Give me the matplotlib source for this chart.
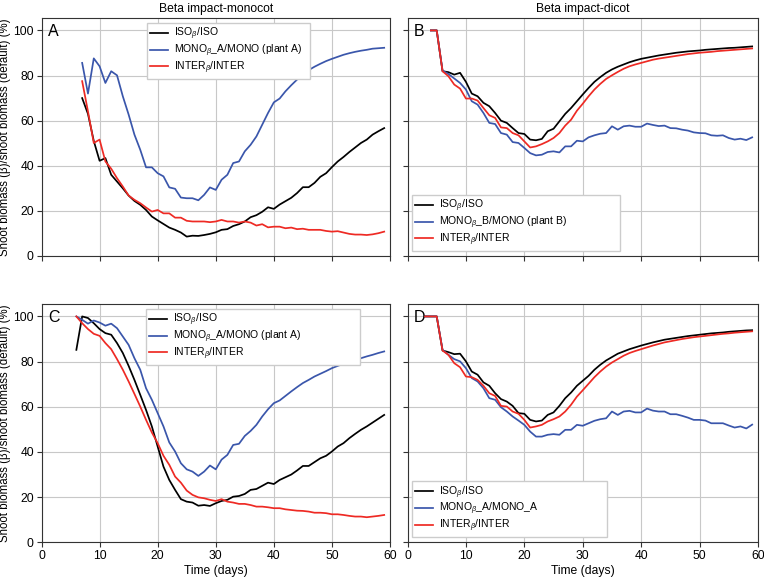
import matplotlib
matplotlib.use("Agg")
import matplotlib.pyplot as plt
import numpy as np

plt.rcParams['font.family'] = ['Liberation Sans', 'DejaVu Sans']
plt.rcParams['mathtext.fontset'] = 'custom'
plt.rcParams['mathtext.rm'] = 'Liberation Sans'
plt.rcParams['mathtext.it'] = 'Liberation Sans:italic'

# ---------------- Panel A (monocot, beta impact) ----------------
days_A = list(range(7, 60))
iso_A = [70.0, 63.0, 51.0, 42.2, 43.4, 36.0, 33.0, 30.0, 26.8, 24.4, 22.7, 20.4, 17.5, 15.8,
         14.2, 12.6, 11.6, 10.4, 8.6, 9.0, 8.9, 9.3, 9.8, 10.5, 11.6, 11.9, 13.3, 14.1, 15.3,
         17.2, 18.1, 19.6, 21.6, 20.9, 22.8, 24.3, 25.8, 27.9, 30.5, 30.5, 32.4, 35.1, 36.7,
         39.4, 41.9, 43.9, 46.1, 48.1, 50.1, 51.6, 53.8, 55.3, 56.7]
mono_A = [85.6, 72.0, 87.6, 84.1, 76.7, 81.9, 80.1, 70.8, 62.7, 53.8, 47.1, 39.3, 39.3, 36.7,
          35.3, 30.4, 29.8, 25.9, 25.6, 25.6, 24.7, 27.1, 30.4, 29.3, 33.8, 36.0, 41.2, 41.9,
          46.4, 49.3, 53.0, 58.2, 63.4, 68.1, 69.8, 73.0, 75.7, 78.2, 80.4, 82.4, 83.9, 85.2,
          86.4, 87.4, 88.3, 89.2, 89.9, 90.5, 91.0, 91.4, 91.9, 92.1, 92.3]
inter_A = [77.5, 64.1, 50.1, 51.6, 41.9, 38.7, 34.5, 30.8, 26.8, 24.9, 23.4, 21.5, 19.7, 20.4,
           18.9, 18.9, 17.0, 17.0, 15.6, 15.3, 15.3, 15.3, 15.0, 15.3, 16.0, 15.3, 15.3, 14.8,
           15.3, 14.8, 13.5, 14.1, 12.7, 13.0, 13.0, 12.3, 12.6, 11.9, 12.1, 11.6, 11.6, 11.6,
           11.1, 10.8, 11.0, 10.4, 9.8, 9.5, 9.5, 9.3, 9.6, 10.1, 10.8]

# ---------------- Panel B (dicot, beta impact) ----------------
days_B = list(range(4, 60))
iso_B = [100.0, 100.0, 81.9, 81.5, 80.4, 81.2, 77.2, 72.0, 70.8, 67.9, 66.4, 63.4, 60.0, 59.0,
         56.7, 54.5, 54.1, 51.6, 51.3, 51.9, 55.3, 56.4, 59.7, 63.0, 65.6, 68.6, 71.6, 74.5,
         77.2, 79.3, 81.2, 82.7, 83.9, 84.9, 85.9, 86.7, 87.4, 87.9, 88.4, 88.9, 89.3, 89.7,
         90.1, 90.4, 90.7, 90.9, 91.1, 91.4, 91.6, 91.8, 92.0, 92.2, 92.3, 92.5, 92.7, 92.9]
mono_B = [100.0, 100.0, 82.2, 80.7, 78.7, 76.7, 73.8, 68.6, 67.1, 63.4, 59.0, 58.5, 54.5, 53.8,
          50.5, 50.1, 47.9, 45.6, 44.6, 44.9, 46.1, 46.4, 45.9, 48.6, 48.6, 51.1, 50.8, 52.6,
          53.5, 54.2, 54.5, 57.5, 56.0, 57.5, 57.8, 57.3, 57.3, 58.7, 58.1, 57.6, 57.8, 56.7,
          56.6, 56.0, 55.6, 54.8, 54.5, 54.4, 53.5, 53.3, 53.5, 52.3, 51.6, 52.0, 51.4, 52.6]
inter_B = [100.0, 100.0, 81.9, 79.7, 76.0, 74.2, 69.8, 69.8, 68.9, 65.6, 62.4, 61.2, 57.0, 56.7,
           54.5, 53.5, 50.8, 48.1, 48.6, 49.6, 50.8, 52.3, 54.5, 57.8, 60.4, 64.4, 67.5, 70.8,
           73.8, 76.3, 78.5, 80.1, 81.6, 83.0, 84.1, 84.9, 85.6, 86.3, 87.0, 87.5, 87.9, 88.3,
           88.7, 89.1, 89.5, 89.8, 90.1, 90.3, 90.5, 90.8, 91.0, 91.2, 91.4, 91.6, 91.8, 92.0]

# ---------------- Panel C (monocot) ----------------
days_C = list(range(6, 60))
iso_C = [85.2, 100.0, 99.3, 97.0, 94.4, 92.6, 91.9, 88.2, 83.8, 78.1, 71.9, 65.3, 58.6, 51.3,
         42.4, 33.5, 27.6, 23.2, 19.1, 18.0, 17.6, 16.2, 16.5, 16.1, 17.3, 18.3, 18.8, 20.2,
         20.5, 21.4, 23.2, 23.6, 25.0, 26.4, 25.8, 27.6, 28.8, 30.0, 31.8, 33.8, 33.8, 35.5,
         37.2, 38.3, 40.2, 42.4, 43.9, 46.1, 48.0, 49.8, 51.3, 53.0, 54.7, 56.4]
mono_C = [100.0, 98.5, 96.8, 98.2, 97.3, 95.9, 96.8, 94.8, 91.1, 87.4, 81.5, 76.4, 68.2, 63.1,
          57.2, 51.3, 44.2, 40.2, 35.0, 32.3, 31.3, 29.4, 31.3, 34.0, 32.3, 36.6, 38.7, 43.1,
          43.6, 47.1, 49.3, 52.0, 55.7, 58.9, 61.6, 62.8, 64.8, 66.8, 68.7, 70.5, 71.9, 73.4,
          74.6, 75.8, 77.1, 78.1, 79.0, 79.9, 80.8, 81.5, 82.3, 83.0, 83.8, 84.5]
inter_C = [100.0, 97.0, 94.4, 92.3, 91.4, 88.2, 85.5, 81.1, 76.4, 71.2, 65.7, 60.1, 54.2, 48.6,
           43.9, 38.3, 34.3, 29.1, 26.4, 22.9, 21.0, 19.9, 19.5, 18.8, 18.3, 19.1, 18.0, 17.6,
           17.0, 17.0, 16.5, 15.8, 15.8, 15.5, 15.1, 15.1, 14.6, 14.3, 14.0, 13.9, 13.6, 13.1,
           13.1, 12.9, 12.4, 12.4, 12.1, 11.7, 11.4, 11.4, 11.1, 11.4, 11.7, 12.1]

# ---------------- Panel D (dicot) ----------------
days_D = list(range(3, 60))
iso_D = [100.0, 100.0, 100.0, 84.9, 84.2, 83.3, 83.5, 80.1, 75.6, 74.2, 70.8, 69.3, 66.0, 63.4,
         62.3, 60.4, 57.2, 56.9, 54.2, 53.5, 53.9, 56.4, 57.5, 60.4, 63.8, 66.3, 69.3, 71.5,
         73.7, 76.4, 78.6, 80.5, 82.0, 83.5, 84.5, 85.5, 86.3, 87.1, 87.8, 88.5, 89.1, 89.7,
         90.1, 90.5, 90.9, 91.3, 91.6, 91.9, 92.2, 92.5, 92.7, 92.9, 93.2, 93.4, 93.6, 93.8, 93.9]
mono_D = [100.0, 100.0, 100.0, 85.2, 83.0, 81.1, 80.1, 77.1, 72.7, 71.2, 68.2, 63.8, 63.1, 59.8,
          57.9, 55.7, 53.9, 52.0, 49.0, 46.8, 46.8, 47.6, 47.9, 47.6, 49.8, 49.8, 52.0, 51.6,
          52.7, 53.8, 54.5, 54.9, 57.9, 56.4, 57.9, 58.2, 57.5, 57.5, 59.2, 58.3, 57.9, 57.9,
          56.7, 56.7, 56.0, 55.2, 54.2, 54.2, 53.9, 52.7, 52.7, 52.7, 51.7, 50.8, 51.3, 50.4, 52.1]
inter_D = [100.0, 100.0, 100.0, 84.9, 83.0, 79.3, 77.5, 73.4, 73.1, 71.9, 69.3, 66.0, 64.8, 60.4,
           60.1, 57.9, 56.9, 54.2, 50.8, 51.3, 52.0, 53.5, 54.5, 55.7, 57.9, 60.9, 64.5, 67.3,
           70.2, 73.1, 75.6, 77.8, 79.6, 81.1, 82.6, 83.8, 84.7, 85.5, 86.3, 87.1, 87.8, 88.5,
           89.0, 89.5, 90.0, 90.4, 90.8, 91.1, 91.4, 91.7, 92.0, 92.3, 92.5, 92.8, 93.0, 93.2, 93.4]

titles = ["Beta impact-monocot", "Beta impact-dicot"]
panel_labels = ["A", "B", "C", "D"]
leg_A = ["ISO$_{\\beta}$/ISO", "MONO$_{\\beta}$_A/MONO (plant A)", "INTER$_{\\beta}$/INTER"]
leg_B = ["ISO$_{\\beta}$/ISO", "MONO$_{\\beta}$_B/MONO (plant B)", "INTER$_{\\beta}$/INTER"]
leg_C = ["ISO$_{\\beta}$/ISO", "MONO$_{\\beta}$_A/MONO (plant A)", "INTER$_{\\beta}$/INTER"]
leg_D = ["ISO$_{\\beta}$/ISO", "MONO$_{\\beta}$_A/MONO_A", "INTER$_{\\beta}$/INTER"]
ylabel = "Shoot biomass (\u03b2)/shoot biomass (default) (%)"
xlabel = "Time (days)"

C_BLACK = "#000000"
C_BLUE = "#3a56ab"
C_RED = "#ee2a24"

fig = plt.figure(figsize=(7.64, 5.79), dpi=100)
W, H = 764, 579
def rect(x0, x1, y0, y1):
    return [x0 / W, 1 - y1 / H, (x1 - x0) / W, (y1 - y0) / H]

axA = fig.add_axes(rect(41.5, 390, 18, 256))
axB = fig.add_axes(rect(407.5, 758, 18, 256))
axC = fig.add_axes(rect(41.5, 390, 304, 542.3))
axD = fig.add_axes(rect(407.5, 758, 304, 542.3))

# legend frame boxes (axes fraction: x0, y0, width, height)
leg_boxes = [
    ("upper left", (0.303, 0.80, 0.467, 0.18)),
    ("lower left", (0.013, 0.021, 0.593, 0.18)),
    ("upper left", (0.299, 0.80, 0.615, 0.18)),
    ("lower left", (0.012, 0.021, 0.558, 0.18)),
]

panels = [
    (axA, days_A, iso_A, mono_A, inter_A, leg_A),
    (axB, days_B, iso_B, mono_B, inter_B, leg_B),
    (axC, days_C, iso_C, mono_C, inter_C, leg_C),
    (axD, days_D, iso_D, mono_D, inter_D, leg_D),
]

for i, (ax, d, iso, mono, inter, labels) in enumerate(panels):
    ax.plot(d, iso, color=C_BLACK, lw=1.25, label=labels[0], zorder=3)
    ax.plot(d, mono, color=C_BLUE, lw=1.25, label=labels[1], zorder=3)
    ax.plot(d, inter, color=C_RED, lw=1.25, label=labels[2], zorder=4)
    ax.set_xlim(0, 60)
    ax.set_ylim(0, 105.5)
    ax.set_xticks(range(0, 61, 10))
    ax.set_yticks(range(0, 101, 20))
    ax.grid(True, color="#c8c8c8", lw=0.8)
    ax.set_axisbelow(True)
    for s in ax.spines.values():
        s.set_color("#333333")
        s.set_linewidth(0.8)
    ax.tick_params(direction="out", length=3.5, width=0.8, color="#333333",
                   labelsize=8.7, pad=2)
    ax.text(0.018, 0.975, panel_labels[i], transform=ax.transAxes, fontsize=11.5,
            va="top", ha="left")
    if i in (1, 3):
        ax.tick_params(labelleft=False)
    else:
        ax.set_ylabel(ylabel, fontsize=8.3, labelpad=1.5)
    if i in (0, 1):
        ax.tick_params(labelbottom=False)
    else:
        ax.set_xlabel(xlabel, fontsize=8.7, labelpad=2)
    loc, box = leg_boxes[i]
    ax.legend(loc=loc, bbox_to_anchor=box, mode="expand", borderaxespad=0,
              fontsize=7.5, labelspacing=0.03, handlelength=1.7, handletextpad=0.6,
              borderpad=0.3, fancybox=False, edgecolor="#cccccc", framealpha=1)

axA.set_title(titles[0], fontsize=8.7, pad=4)
axB.set_title(titles[1], fontsize=8.7, pad=4)

fig.savefig("out.png", dpi=100)
